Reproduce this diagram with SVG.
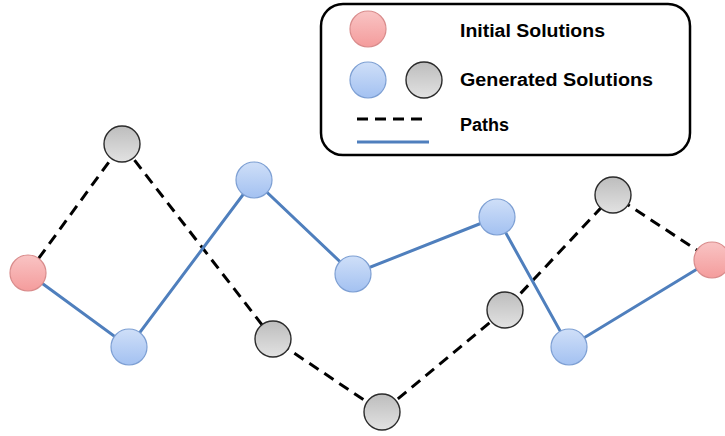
<svg xmlns="http://www.w3.org/2000/svg" width="725" height="436" viewBox="0 0 725 436">
<defs>
<linearGradient id="gRed" x1="0" y1="0" x2="0" y2="1"><stop offset="0" stop-color="#f9c4c4"/><stop offset="1" stop-color="#f49c9c"/></linearGradient>
<linearGradient id="gBlue" x1="0" y1="0" x2="0" y2="1"><stop offset="0" stop-color="#cfdff8"/><stop offset="1" stop-color="#a3c1f1"/></linearGradient>
<linearGradient id="gGray" x1="0" y1="0" x2="0" y2="1"><stop offset="0" stop-color="#bdbdbd"/><stop offset="1" stop-color="#e2e2e2"/></linearGradient>
</defs>
<style>
.red{fill:url(#gRed);stroke:#d98c8c;stroke-width:1.2}
.blue{fill:url(#gBlue);stroke:#7d9fd3;stroke-width:1.2}
.gray{fill:url(#gGray);stroke:#2b2b2b;stroke-width:1.4}
.dash{fill:none;stroke:#000;stroke-width:3;stroke-dasharray:11 7}
.solid{fill:none;stroke:#4f7fbd;stroke-width:3}
.lbl{font-family:"Liberation Sans",Arial,sans-serif;font-weight:bold;font-size:18px;fill:#000}
</style>
<g id="connectors">
<polyline class="dash" points="28,273 122,144 273,339 382,412 505,310 613,195 712,260"/>
<polyline class="solid" points="28,273 129,347 254,180 353,274 497,217 569,347 712,260"/>
</g>
<g id="n-red-left"><circle class="red" cx="28" cy="273" r="18"/></g>
<g id="n-gray-1"><circle class="gray" cx="122" cy="144" r="18"/></g>
<g id="n-blue-1"><circle class="blue" cx="129" cy="347" r="18"/></g>
<g id="n-blue-2"><circle class="blue" cx="254" cy="180" r="18"/></g>
<g id="n-gray-2"><circle class="gray" cx="273" cy="339" r="18"/></g>
<g id="n-blue-3"><circle class="blue" cx="353" cy="274" r="18"/></g>
<g id="n-gray-3"><circle class="gray" cx="382" cy="412" r="18"/></g>
<g id="n-blue-4"><circle class="blue" cx="497" cy="217" r="18"/></g>
<g id="n-gray-4"><circle class="gray" cx="505" cy="310" r="18"/></g>
<g id="n-blue-5"><circle class="blue" cx="569" cy="347" r="18"/></g>
<g id="n-gray-5"><circle class="gray" cx="613" cy="195" r="18"/></g>
<g id="n-red-right"><circle class="red" cx="712" cy="260" r="18"/></g>
<g id="legend">
<rect x="321" y="4" width="369" height="151" rx="22" ry="22" fill="#fff" stroke="#000" stroke-width="2.5"/>
<circle class="red" cx="368" cy="29" r="18"/>
<circle class="blue" cx="368" cy="80" r="18"/>
<circle class="gray" cx="424" cy="80" r="18"/>
<line class="dash" x1="357" y1="119" x2="423" y2="119" stroke-dasharray="10 7"/>
<line class="solid" x1="357" y1="142" x2="429" y2="142"/>
<text class="lbl" x="460" y="37" textLength="145" lengthAdjust="spacingAndGlyphs">Initial Solutions</text>
<text class="lbl" x="460" y="86" textLength="193" lengthAdjust="spacingAndGlyphs">Generated Solutions</text>
<text class="lbl" x="460" y="131">Paths</text>
</g>
</svg>
